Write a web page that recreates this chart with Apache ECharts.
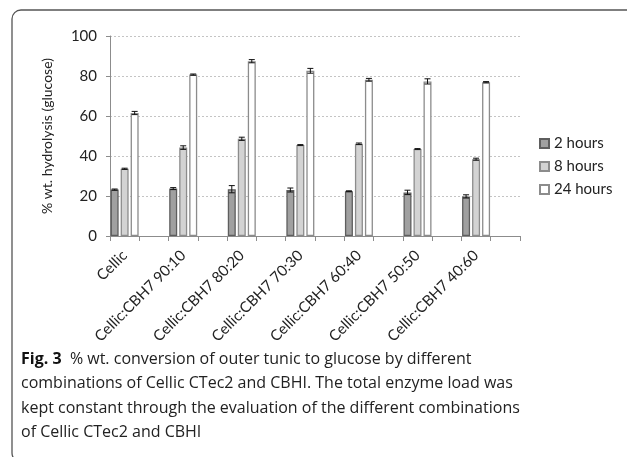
<!DOCTYPE html>
<html>
<head>
<meta charset="utf-8">
<script src="https://cdn.jsdelivr.net/npm/echarts@6/dist/echarts.min.js"></script>
<style>
  html, body { margin: 0; padding: 0; background: #fff; }
  #chart { width: 627px; height: 457px; }
</style>
</head>
<body>
<div id="chart"></div>
<script>
// groups on the x axis
var categories = ['Cellic', 'Cellic:CBH7 90:10', 'Cellic:CBH7 80:20', 'Cellic:CBH7 70:30',
  'Cellic:CBH7 60:40', 'Cellic:CBH7 50:50', 'Cellic:CBH7 40:60'];
var seriesNames = ['2 hours', '8 hours', '24 hours'];
var hours2 = [23.2, 23.7, 23.4, 23.0, 22.4, 21.8, 19.8];
var hours8 = [33.6, 44.2, 48.6, 45.5, 46.1, 43.5, 38.4];
var hours24 = [61.5, 80.7, 87.4, 82.6, 78.1, 77.3, 76.9];
var err2 = [0.3, 0.5, 1.8, 1.0, 0.2, 1.1, 0.8];
var err8 = [0.3, 0.9, 0.8, 0.2, 0.4, 0.2, 0.5];
var err24 = [0.8, 0.3, 0.8, 1.2, 0.7, 1.3, 0.3];
var yTicks = [0, 20, 40, 60, 80, 100];

// excel draws an empty slot between groups, so interleave blanks
function spread(arr, blank) {
  var out = [];
  arr.forEach(function (v) { out.push(v); out.push(blank); });
  return out;
}
var axisData = spread(categories, '');

var fills = ['#a0a0a0', '#d3d3d3', '#ffffff'];
var borders = ['#5e5e5e', '#8c8c8c', '#8c8c8c'];
var values = [hours2, hours8, hours24];
var errs = [err2, err8, err24];
var offsets = [-10, 0, 10];

var series = [];
values.forEach(function (vals, i) {
  series.push({
    name: seriesNames[i],
    type: 'bar',
    barWidth: 8,
    barGap: '25%',
    data: spread(vals, '-'),
    itemStyle: { color: fills[i], borderColor: borders[i], borderWidth: 1.3 },
    emphasis: { disabled: true }
  });
});

values.forEach(function (vals, i) {
  var d = [];
  vals.forEach(function (v, k) { d.push([k * 2, v - errs[i][k], v + errs[i][k]]); });
  series.push({
    type: 'custom',
    silent: true,
    z: 5,
    data: d,
    renderItem: function (params, api) {
      var lo = api.coord([api.value(0), api.value(1)]);
      var hi = api.coord([api.value(0), api.value(2)]);
      var x = lo[0] + offsets[i];
      var s = { stroke: '#111', lineWidth: 1 };
      return {
        type: 'group',
        children: [
          { type: 'line', shape: { x1: x, y1: lo[1], x2: x, y2: hi[1] }, style: s },
          { type: 'line', shape: { x1: x - 3, y1: lo[1], x2: x + 3, y2: lo[1] }, style: s },
          { type: 'line', shape: { x1: x - 3, y1: hi[1], x2: x + 3, y2: hi[1] }, style: s }
        ]
      };
    }
  });
});

var captionLines = [
  '{b|Fig. 3}  % wt. conversion of outer tunic to glucose by different',
  'combinations of Cellic CTec2 and CBHI. The total enzyme load was',
  'kept constant through the evaluation of the different combinations',
  'of Cellic CTec2 and CBHI'
];
var captionFont = 'Open Sans';
var graphics = [{
  type: 'rect',
  shape: { x: 12, y: 10, width: 700, height: 452, r: 9 },
  style: { fill: 'none', stroke: '#555', lineWidth: 1.3 },
  silent: true
}];
captionLines.forEach(function (t, i) {
  graphics.push({
    type: 'text',
    left: 21,
    top: 351 + i * 24.6,
    style: {
      text: t,
      fill: '#222',
      font: '16px "' + captionFont + '"',
      rich: { b: { fontWeight: 'bold', fontSize: 16, fontFamily: captionFont, fill: '#111' } }
    }
  });
});

var chart = echarts.init(document.getElementById('chart'));
chart.setOption({
  animation: false,
  textStyle: { fontFamily: 'Lato' },
  grid: { left: 110, top: 36, right: 107, bottom: 221, containLabel: false },
  legend: {
    orient: 'vertical',
    left: 534,
    top: 131,
    itemWidth: 9,
    itemHeight: 9,
    itemGap: 8,
    icon: 'rect',
    selectedMode: false,
    textStyle: { fontSize: 15, color: '#222', fontFamily: 'Lato' },
    data: seriesNames
  },
  xAxis: {
    type: 'category',
    data: axisData,
    axisLine: { lineStyle: { color: '#8c8c8c' } },
    axisTick: { show: true, interval: 0, length: 5, lineStyle: { color: '#8c8c8c' } },
    axisLabel: { interval: 0, rotate: 45, fontSize: 15, color: '#222', margin: 17 }
  },
  yAxis: {
    type: 'value',
    min: yTicks[0],
    max: yTicks[yTicks.length - 1],
    interval: 20,
    name: '% wt. hydrolysis (glucose)',
    nameLocation: 'middle',
    nameGap: 56,
    nameTextStyle: { fontSize: 14, color: '#222' },
    axisLine: { show: true, lineStyle: { color: '#8c8c8c' } },
    axisTick: { show: true, length: 4, inside: false, lineStyle: { color: '#8c8c8c' } },
    axisLabel: { fontSize: 15, color: '#222', margin: 13 },
    splitLine: { lineStyle: { color: '#c4c4c4', type: [2, 2] } }
  },
  series: series,
  graphic: graphics
});
</script>
</body>
</html>
